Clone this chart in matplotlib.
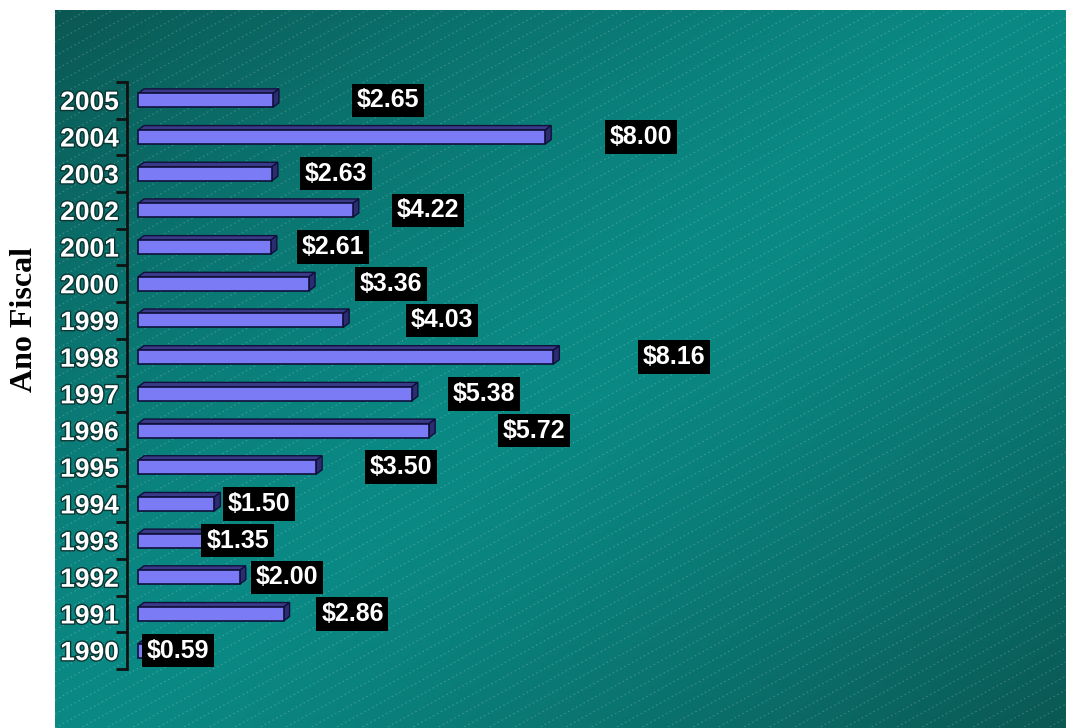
import numpy as np
import matplotlib
matplotlib.use('Agg')
import matplotlib.pyplot as plt
from matplotlib.patches import Polygon
import matplotlib.patheffects as pe


# 01 Data (top to bottom as in the chart)
Years = ['2005', '2004', '2003', '2002', '2001', '2000', '1999', '1998',
         '1997', '1996', '1995', '1994', '1993', '1992', '1991', '1990']
Values = [2.65, 8.00, 2.63, 4.22, 2.61, 3.36, 4.03, 8.16,
          5.38, 5.72, 3.50, 1.50, 1.35, 2.00, 2.86, 0.59]
# where each value box starts (x, data units)
LabelX = [4.30, 9.27, 3.28, 5.09, 3.22, 4.36, 5.36, 9.92,
          6.19, 7.17, 4.56, 1.77, 1.34, 2.32, 3.60, 0.18]
YLabel = 'Ano Fiscal'

W, H = 1066, 728
Figure = plt.figure(figsize=(W/100, H/100), dpi=100)
Figure.patch.set_facecolor('white')


# 02 Teal background with dashed diagonal lines
BgL, BgW, BgH = 55, W-55, 718
Bg = Figure.add_axes([BgL/W, 0, BgW/W, BgH/H])
xx, yy = np.meshgrid(np.linspace(0, 1, 300), np.linspace(0, 1, 200))
u = np.abs(xx + yy - 1)          # yy measured from top (origin='upper')
Bright = np.array([0x0b, 0x8a, 0x85]) / 255
Dark = np.array([0x0a, 0x58, 0x54]) / 255
t = np.clip(u, 0, 1)[..., None] ** 1.3
Grad = Bright*(1-t) + Dark*t
Bg.imshow(Grad, extent=[0, BgW, 0, BgH], origin='upper', aspect='auto', zorder=0)
xs = np.array([0, BgW])
for c in np.arange(-700, BgH+20, 14):
    Bg.plot(xs, 0.55*xs + c, color='white', alpha=0.2, lw=0.8,
            linestyle=(0, (1.5, 2.5)), zorder=1)
Bg.set_xlim(0, BgW)
Bg.set_ylim(0, BgH)
Bg.axis('off')


# 03 Bar axes
AxL, AxTop, AxBot = 127, 82, 669
Axes = Figure.add_axes([AxL/W, (H-AxBot)/H, (W-AxL)/W, (AxBot-AxTop)/H])
Axes.set_facecolor('none')
Scale = 50.9                     # px per unit
x0 = -(138-AxL)/Scale
Axes.set_xlim(x0, x0 + (W-AxL)/Scale)
n = len(Years)
Pos = np.arange(n)[::-1]
Axes.set_ylim(-0.5, n-0.5)

BarH = 0.38
dx, dy = 6/Scale, 4.5/((AxBot-AxTop)/n)
Axes.barh(Pos, Values, height=BarH, color='#7b7bf5', edgecolor='#10103a',
          linewidth=1.2, zorder=3)
for p, v in zip(Pos, Values):
    top = [(0, p+BarH/2), (v, p+BarH/2), (v+dx, p+BarH/2+dy), (dx, p+BarH/2+dy)]
    side = [(v, p-BarH/2), (v+dx, p-BarH/2+dy), (v+dx, p+BarH/2+dy), (v, p+BarH/2)]
    Axes.add_patch(Polygon(top, closed=True, facecolor='#3a3a88', edgecolor='#10103a', lw=1, zorder=2))
    Axes.add_patch(Polygon(side, closed=True, facecolor='#2c2c72', edgecolor='#10103a', lw=1, zorder=2))

for p, v, lx in zip(Pos, Values, LabelX):
    Axes.text(lx, p, '${:.2f}'.format(v), ha='left', va='center', color='white',
              fontsize=18, fontweight='bold', family='Liberation Sans',
              bbox=dict(facecolor='black', edgecolor='none', pad=3.5), zorder=5)

for s in ['top', 'right', 'bottom']:
    Axes.spines[s].set_visible(False)
Axes.spines['left'].set_color('#111111')
Axes.spines['left'].set_linewidth(2)
Axes.set_xticks([])
Axes.set_yticks(Pos)
Axes.set_yticklabels(Years)
Axes.set_yticks(np.arange(-0.5, n), minor=True)
Axes.tick_params(axis='y', which='major', length=0, pad=6)
Axes.tick_params(axis='y', which='minor', length=8, width=2, color='#111111')
for lab in Axes.get_yticklabels():
    lab.set_color('white')
    lab.set_fontweight('bold')
    lab.set_fontsize(19)
    lab.set_family('Liberation Sans')
    lab.set_path_effects([pe.withStroke(linewidth=2, foreground='#0a3533')])

Figure.text(25/W, (H-320)/H, YLabel, rotation=90, ha='center', va='center',
            family='Liberation Serif', fontweight='bold', fontsize=23, color='black')

plt.savefig('out.png', dpi=100)
plt.close(Figure)
